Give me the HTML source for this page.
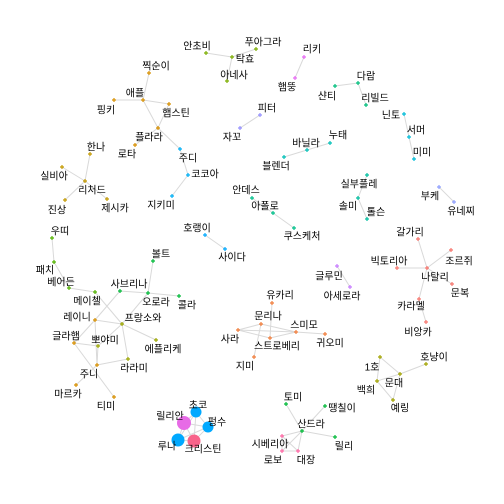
<!DOCTYPE html>
<html><head><meta charset="utf-8">
<style>
html,body{margin:0;padding:0;background:#fff;}
svg{display:block;}
text{font-family:"Liberation Sans","Noto Sans CJK KR","NanumGothic",sans-serif;font-size:10px;fill:#000;}
</style></head>
<body>
<svg id="chart" width="504" height="504" viewBox="0 0 504 504">
<rect width="504" height="504" fill="#fff"/>
<g id="edges"></g>
<g id="nodes"></g>
<g id="labels"></g>
</svg>
<script>
const nodeNames = ["안초비","탁효","아네사","푸아그라","찍순이","애플","핑키","햄스틴","플라라","로타","주디","코코아","지키미","한나","실비아","리처드","진상","제시카","우띠","호랭이","사이다",
"리키","햄뚱","다람","샨티","리빌드","닌토","서머","미미","피터","자꼬","누태","바닐라","블렌더","실부플레","솔미","톨슨","부케","유네찌","안데스","아폴로","쿠스케처","갈가리",
"패치","볼트","베어든","메이첼","사브리나","오로라","콜라","레이니","프랑소와","에플리케","글라햄","뽀야미","라라미","주니","마르카","티미",
"초코","릴리안","펑수","루나","크리스틴",
"빅토리아","조르쥐","나탈리","문복","카라멜","비앙카","글루민","아세로라",
"유카리","문리나","스미모","사라","스트로베리","귀오미","지미",
"1호","호냥이","문대","백희","예링","토미","땡칠이","산드라","릴리","시베리아","로보","대장"];
const nodeX = [206,232,227,256,149,143,114,169,158,135,180,188,172,90,62,85,65,107,52,205,225,
304,295,358,335,366,404,409,414,260,240,330,307,284,367,358,367,439,454,252,273,294,418,
54,153,69,95,120,148,179,95,122,156,74,98,128,97,76,114,
196,184,208,178,194,
397,451,427,452,419,426,337,350,
272,261,296,238,270,325,254,
380,426,400,377,393,286,325,302,335,282,282,298];
const nodeY = [53,57,81,49,73,100,100,104,128,145,149,175,196,154,167,181,200,199,238,235,249,
57,78,83,86,105,114,137,159,115,128,143,150,157,175,198,219,187,202,198,213,228,239,
262,261,288,292,291,293,296,320,324,340,343,346,359,365,385,397,
412,423,427,440,441,
268,250,268,284,299,322,266,287,
303,324,332,330,338,334,357,
357,364,374,381,400,404,406,431,437,436,451,451];
const labelX = [197,245,234,263,156,135,106,176,149,127,188,205,161,96,54,92,57,115,60,197,232,
312,287,366,327,375,391,416,422,267,232,338,306,276,359,348,376,430,461,246,265,302,410,
45,161,61,87,129,156,187,77,143,163,66,105,134,89,68,106,
198,170,217,167,203,
389,459,435,460,411,418,329,342,
280,268,304,230,277,330,245,
372,434,394,366,400,293,342,311,344,270,273,306];
const labelY = [46,59,75,42,66,93,110,113,137,154,158,174,205,147,176,190,210,208,231,228,257,
49,87,76,96,98,115,130,152,108,137,135,143,166,184,206,212,196,211,190,206,236,232,
270,254,282,301,284,302,305,317,318,349,336,340,368,374,394,406,
405,416,422,446,449,
261,261,277,293,306,332,276,296,
295,316,325,339,346,343,366,
367,357,383,390,408,397,408,424,446,444,460,460];
const nodeColor = ["#7cae00","#7cae00","#7cae00","#7cae00","#d89000","#d89000","#d89000","#d89000","#d89000","#d89000","#00b0f6","#00b0f6","#00b0f6","#c49a00","#c49a00","#c49a00","#c49a00","#c49a00","#53b400","#00a9ff","#00a9ff",
"#e76bf3","#e76bf3","#00bf7d","#00bf7d","#00bf7d","#00bcd8","#00bcd8","#00bcd8","#9590ff","#9590ff","#00c0b8","#00c0b8","#00c0b8","#00bfa0","#00bfa0","#00bfa0","#8f9fff","#8f9fff","#00c08b","#00c08b","#00c08b","#f8766d",
"#53b400","#00b938","#53b400","#53b400","#00b938","#00b938","#00b938","#d89000","#9ca700","#9ca700","#d89000","#9ca700","#9ca700","#d89000","#d89000","#d89000",
"#00a9ff","#e76be6","#00a9ff","#00a9ff","#f8638a",
"#f8766d","#f8766d","#f8766d","#f8766d","#f8766d","#f8766d","#c77cff","#c77cff",
"#f07c3a","#f07c3a","#f07c3a","#f07c3a","#f07c3a","#f07c3a","#f07c3a",
"#a3a500","#a3a500","#a3a500","#a3a500","#a3a500","#00ba38","#00ba38","#00ba38","#00ba38","#ff67a4","#ff67a4","#ff67a4"];
const nodeSize = {"초코":5.5,"릴리안":7,"펑수":5.5,"루나":6.5,"크리스틴":6.5};
const edgeFrom = ["안초비","탁효","탁효","찍순이","핑키","애플","애플","햄스틴","플라라","플라라","코코아","코코아","한나","실비아","리처드","리처드","호랭이","우띠",
"리키","다람","다람","닌토","서머","피터","누태","바닐라","실부플레","솔미","부케","안데스","아폴로",
"패치","베어든","메이첼","사브리나","레이니","사브리나","오로라","오로라","오로라","레이니","프랑소와","프랑소와","프랑소와","레이니","글라햄","뽀야미","주니","주니","글라햄",
"초코","초코","초코","초코","릴리안","릴리안","릴리안","펑수","펑수","루나",
"갈가리","빅토리아","조르쥐","문복","나탈리","카라멜","글루민",
"유카리","사라","사라","문리나","스트로베리","문리나","스미모","사라",
"1호","1호","백희","문대","문대","백희",
"토미","땡칠이","산드라","산드라","산드라","산드라","시베리아","시베리아","로보"];
const edgeTo = ["탁효","아네사","푸아그라","애플","애플","햄스틴","플라라","플라라","주디","로타","주디","지키미","리처드","리처드","진상","제시카","사이다","패치",
"햄뚱","샨티","리빌드","서머","미미","자꼬","바닐라","블렌더","솔미","톨슨","유네찌","아폴로","쿠스케처",
"베어든","메이첼","프랑소와","레이니","글라햄","오로라","볼트","콜라","프랑소와","프랑소와","뽀야미","에플리케","라라미","주니","뽀야미","주니","라라미","마르카","티미",
"릴리안","펑수","루나","크리스틴","펑수","루나","크리스틴","루나","크리스틴","크리스틴",
"나탈리","나탈리","나탈리","나탈리","카라멜","비앙카","아세로라",
"스트로베리","문리나","스미모","스미모","스미모","지미","귀오미","스트로베리",
"문대","백희","예링","예링","호냥이","문대",
"산드라","산드라","릴리","시베리아","로보","대장","로보","대장","대장"];

const NS = "http://www.w3.org/2000/svg";
const idx = n => nodeNames.indexOf(n);
const gE = document.getElementById("edges");
const gN = document.getElementById("nodes");
const gL = document.getElementById("labels");
for (let i = 0; i < edgeFrom.length; i++) {
  const a = idx(edgeFrom[i]), b = idx(edgeTo[i]);
  if (a < 0 || b < 0) continue;
  const l = document.createElementNS(NS, "line");
  l.setAttribute("x1", nodeX[a]); l.setAttribute("y1", nodeY[a]);
  l.setAttribute("x2", nodeX[b]); l.setAttribute("y2", nodeY[b]);
  l.setAttribute("stroke", "#d9d9d9"); l.setAttribute("stroke-width", "1");
  
  
  gE.appendChild(l);
}
for (let i = 0; i < nodeNames.length; i++) {
  const x = nodeX[i], y = nodeY[i], c = nodeColor[i];
  let el;
  if (nodeSize[nodeNames[i]]) {
    el = document.createElementNS(NS, "circle");
    el.setAttribute("cx", x); el.setAttribute("cy", y);
    el.setAttribute("r", nodeSize[nodeNames[i]]);
    el.setAttribute("fill", c);
  } else {
    el = document.createElementNS(NS, "path");
    el.setAttribute("d", `M${x-2} ${y}H${x+2}M${x} ${y-2}V${y+2}`);
    el.setAttribute("stroke", c); el.setAttribute("stroke-width", "1.2");
  }
  
  
  gN.appendChild(el);
  const t = document.createElementNS(NS, "text");
  t.setAttribute("x", labelX[i]); t.setAttribute("y", labelY[i] + 3.5);
  t.setAttribute("text-anchor", "middle");
  t.textContent = nodeNames[i];
  
  
  gL.appendChild(t);
}
</script>
</body></html>
